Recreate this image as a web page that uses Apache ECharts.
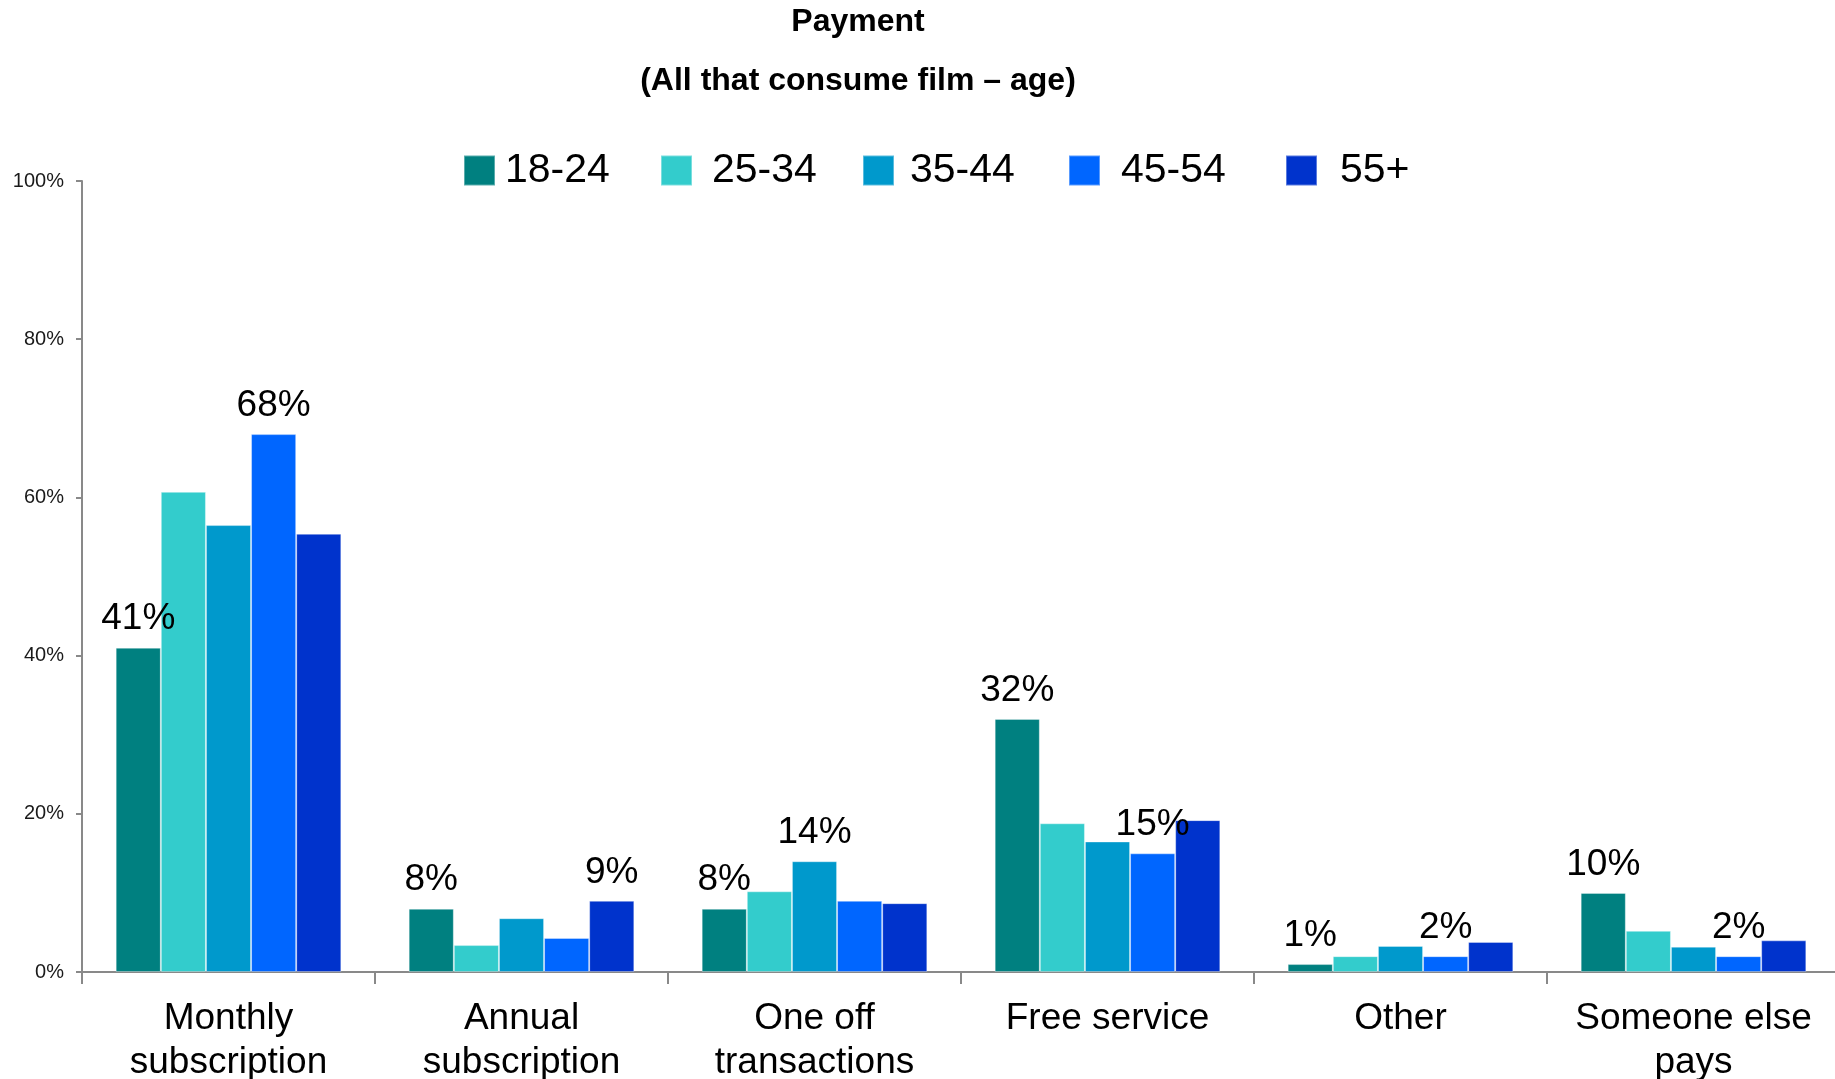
<!DOCTYPE html>
<html>
<head>
<meta charset="utf-8">
<script src="https://cdn.jsdelivr.net/npm/echarts@6/dist/echarts.min.js"></script>
<style>
  html, body { margin: 0; padding: 0; background: #ffffff; }
  #chart { width: 1835px; height: 1079px; }
</style>
</head>
<body>
<div id="chart"></div>
<script>
// Payment method by age group (% of all that consume film)
const categories = ['Monthly\nsubscription', 'Annual\nsubscription', 'One off\ntransactions', 'Free service', 'Other', 'Someone else\npays'];
const ageGroups = ['18-24', '25-34', '35-44', '45-54', '55+'];

const age18to24 = [41, 8, 8, 32, 1, 10];
const age25to34 = [60.7, 3.4, 10.2, 18.8, 2.0, 5.2];
const age35to44 = [56.5, 6.8, 14, 16.5, 3.3, 3.2];
const age45to54 = [68, 4.3, 9.0, 15, 2, 2];
const age55plus = [55.4, 9, 8.7, 19.2, 3.8, 4.0];

// Bars whose value is printed above them: [age group index, category index]
const labelledBars = [
  [0, 0], [3, 0],
  [0, 1], [4, 1],
  [0, 2], [2, 2],
  [0, 3], [3, 3],
  [0, 4], [3, 4],
  [0, 5], [3, 5]
];

const yTicks = { min: 0, max: 100, interval: 20 };

const colors = ['#008080', '#33CCCC', '#0099CC', '#0066FF', '#0033CC'];
const values = [age18to24, age25to34, age35to44, age45to54, age55plus];
const FONT = '"Liberation Sans", Arial, Helvetica, sans-serif';

// legend key placement: swatch left edge and gap before the text
const legendLeft = [463, 660, 862, 1068, 1285];
const legendTextPad = [5, 15, 11, 16, 18];

const series = ageGroups.map((name, s) => ({
  name: name,
  type: 'bar',
  barGap: '0%',
  barCategoryGap: '23%',
  itemStyle: { color: colors[s], borderColor: 'rgba(255,255,255,0.35)', borderWidth: 1 },
  data: values[s].map((v, c) => {
    const shown = labelledBars.some(p => p[0] === s && p[1] === c);
    return {
      value: v,
      label: {
        show: shown,
        position: 'top',
        distance: 10,
        formatter: p => Math.round(p.value) + '%',
        fontFamily: FONT,
        fontSize: 37,
        color: '#000000'
      }
    };
  })
}));

const legends = ageGroups.map((name, i) => ({
  data: [name],
  left: legendLeft[i],
  top: 150,
  padding: 0,
  icon: 'rect',
  itemWidth: 31,
  itemHeight: 30,
  textStyle: { fontFamily: FONT, fontSize: 41, color: '#000000', padding: [0, 0, 0, legendTextPad[i]] }
}));

const chart = echarts.init(document.getElementById('chart'), null, { renderer: 'canvas' });
chart.setOption({
  animation: false,
  backgroundColor: '#ffffff',
  title: {
    text: 'Payment',
    subtext: '(All that consume film \u2013 age)',
    left: 858,
    top: 6,
    padding: 0,
    textAlign: 'center',
    itemGap: 27,
    textStyle: { fontFamily: FONT, fontSize: 32, fontWeight: 'bold', color: '#000000' },
    subtextStyle: { fontFamily: FONT, fontSize: 32, fontWeight: 'bold', color: '#000000' }
  },
  legend: legends,
  grid: { left: 82, top: 181, width: 1758, height: 791, outerBoundsMode: 'none' },
  xAxis: {
    type: 'category',
    data: categories,
    axisLine: { lineStyle: { color: '#898989', width: 2 } },
    axisTick: { show: true, alignWithLabel: false, length: 12, lineStyle: { color: '#898989', width: 2 } },
    axisLabel: {
      interval: 0,
      margin: 25,
      fontFamily: FONT,
      fontSize: 37,
      lineHeight: 44,
      color: '#000000'
    },
    splitLine: { show: false }
  },
  yAxis: {
    type: 'value',
    min: yTicks.min,
    max: yTicks.max,
    interval: yTicks.interval,
    axisLine: { show: true, lineStyle: { color: '#898989', width: 2 } },
    axisTick: { show: true, length: 6, lineStyle: { color: '#898989', width: 2 } },
    axisLabel: {
      formatter: '{value}%',
      margin: 18,
      fontFamily: FONT,
      fontSize: 20,
      color: '#1a1a1a'
    },
    splitLine: { show: false }
  },
  series: series
});
</script>
</body>
</html>
